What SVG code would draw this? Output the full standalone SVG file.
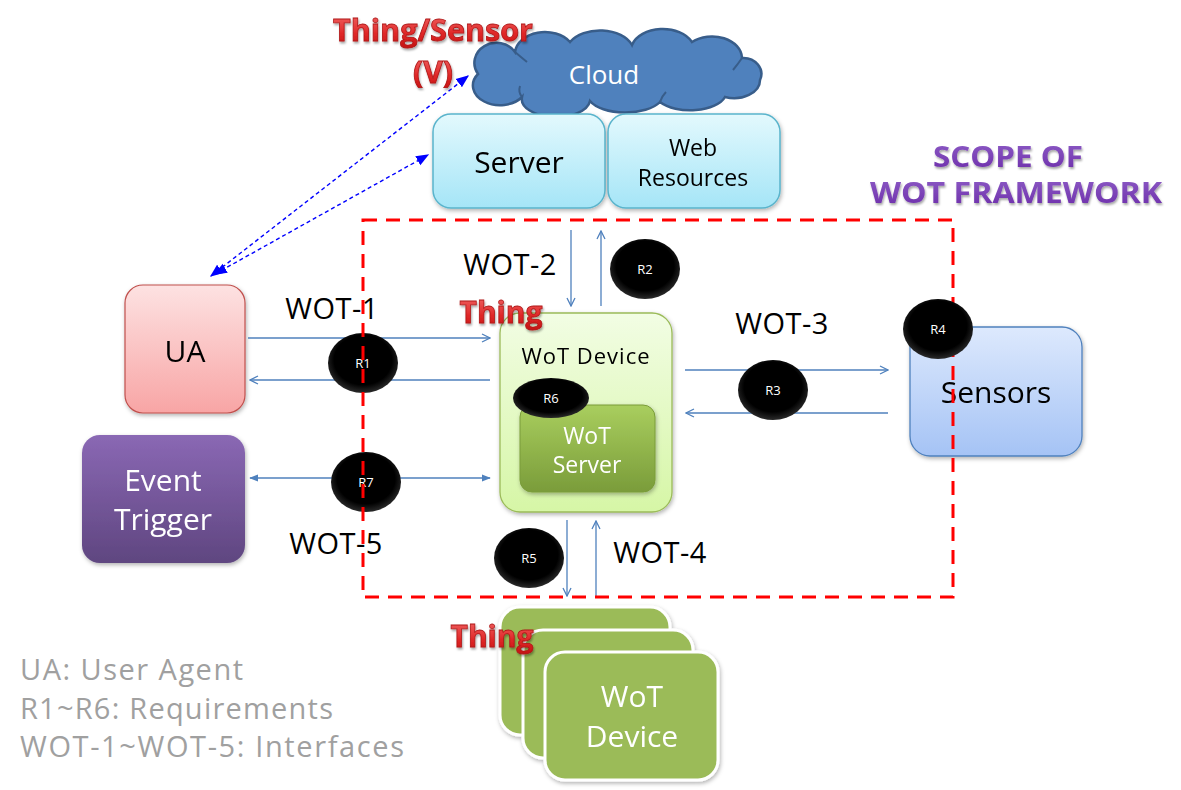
<svg xmlns="http://www.w3.org/2000/svg" width="1181" height="790" viewBox="0 0 1181 790">
<style>
.t{font-family:"Open Sans","Noto Sans","Liberation Sans",sans-serif;}
.lbl{font-family:"Open Sans","Noto Sans","Liberation Sans",sans-serif;font-size:29px;fill:#000;text-anchor:middle;letter-spacing:0.5px;}
.thing{font-family:"Open Sans","Liberation Sans",sans-serif;font-weight:bold;font-size:30px;fill:url(#redg);stroke:#b01818;stroke-width:0.8;text-anchor:middle;filter:url(#tsh);}
.req{fill:url(#blk);}
.reqt{font-family:"Open Sans","Liberation Sans",sans-serif;font-size:13px;fill:#fff;text-anchor:middle;}
.ln{stroke:#4f81bd;stroke-width:1.3;fill:none;}
.dot{stroke:#0000ff;stroke-width:1.4;stroke-dasharray:4 3;fill:none;marker-start:url(#fa);marker-end:url(#fa);}
.leg{font-family:"Open Sans","Noto Sans","Liberation Sans",sans-serif;font-size:29px;fill:#a0a0a0;}
.wht{fill:#fff;text-anchor:middle;}
</style>
<defs>
<linearGradient id="srv" x1="0" y1="0" x2="0" y2="1"><stop offset="0" stop-color="#e3f9fd"/><stop offset="1" stop-color="#a5e5f7"/></linearGradient>
<linearGradient id="ua" x1="0" y1="0" x2="0" y2="1"><stop offset="0" stop-color="#fde2e2"/><stop offset="1" stop-color="#f8a5a5"/></linearGradient>
<linearGradient id="ev" x1="0" y1="0" x2="0" y2="1"><stop offset="0" stop-color="#8a68b4"/><stop offset="1" stop-color="#5f4680"/></linearGradient>
<linearGradient id="dev" x1="0" y1="0" x2="0" y2="1"><stop offset="0" stop-color="#f2fde4"/><stop offset="1" stop-color="#d6f6a6"/></linearGradient>
<linearGradient id="ws" x1="0" y1="0" x2="0" y2="1"><stop offset="0" stop-color="#a9ce5e"/><stop offset="1" stop-color="#7a9c3a"/></linearGradient>
<linearGradient id="sen" x1="0" y1="0" x2="0" y2="1"><stop offset="0" stop-color="#dde9fd"/><stop offset="1" stop-color="#a5c3f5"/></linearGradient>
<linearGradient id="redg" x1="0" y1="0" x2="0" y2="1"><stop offset="0" stop-color="#f47070"/><stop offset="0.6" stop-color="#e02828"/><stop offset="1" stop-color="#c01010"/></linearGradient>
<linearGradient id="purg" x1="0" y1="0" x2="0" y2="1"><stop offset="0" stop-color="#9060c8"/><stop offset="1" stop-color="#6a2aa8"/></linearGradient>
<radialGradient id="blk" cx="0.5" cy="0.45" r="0.55"><stop offset="0.75" stop-color="#000"/><stop offset="1" stop-color="#2a2a2a"/></radialGradient>
<filter id="sh" x="-10%" y="-10%" width="125%" height="130%"><feDropShadow dx="1" dy="2" stdDeviation="2" flood-color="#000" flood-opacity="0.3"/></filter>
<filter id="tsh" x="-10%" y="-20%" width="120%" height="150%"><feDropShadow dx="1" dy="2" stdDeviation="1" flood-color="#000" flood-opacity="0.35"/></filter>
<marker id="oa" viewBox="0 0 10 10" refX="9" refY="5" markerWidth="10" markerHeight="10" markerUnits="userSpaceOnUse" orient="auto"><path d="M1,1 L9,5 L1,9" fill="none" stroke="#4f81bd" stroke-width="1.3"/></marker>
<marker id="ta" viewBox="0 0 10 10" refX="9" refY="5" markerWidth="9" markerHeight="9" markerUnits="userSpaceOnUse" orient="auto-start-reverse"><path d="M0,1 L10,5 L0,9 Z" fill="#4f81bd"/></marker>
<marker id="fa" viewBox="0 0 10 10" refX="9" refY="5" markerWidth="13" markerHeight="13" markerUnits="userSpaceOnUse" orient="auto-start-reverse"><path d="M0,1 L10,5 L0,9 Z" fill="#0000ff"/></marker>
</defs>
<rect width="1181" height="790" fill="#fff"/>

<g id="cloud">
<path d="M478,74 A22,20 0 0 1 515,52 A30,22 0 0 1 570,42 A34,22 0 0 1 632,45 A32,22 0 0 1 692,42 A30,22 0 0 1 742,58 A18,16 0 0 1 760,80 A26,18 0 0 1 725,97 A36,18 0 0 1 660,102 A38,18 0 0 1 590,101 A34,18 0 0 1 522,97 A22,16 0 0 1 478,74 Z" fill="#4f81bd" stroke="#385d8a" stroke-width="2.5"/>
<path d="M515,52 Q522,58 527,62 M742,58 Q738,64 733,70 M522,97 Q518,92 520,86 M660,102 Q662,96 666,92" fill="none" stroke="#385d8a" stroke-width="2"/>
<text class="t wht" x="604" y="84" font-size="26">Cloud</text>
</g>

<g id="server" filter="url(#sh)">
<rect x="433" y="114" width="172" height="94" rx="18" fill="url(#srv)" stroke="#5ab4cc" stroke-width="1.5"/>
<text class="t" x="519" y="173" font-size="30" text-anchor="middle">Server</text>
</g>
<g id="webres" filter="url(#sh)">
<rect x="608" y="114" width="172" height="94" rx="18" fill="url(#srv)" stroke="#5ab4cc" stroke-width="1.5"/>
<text class="t" x="693" y="156" font-size="23" text-anchor="middle">Web</text>
<text class="t" x="693" y="186" font-size="23" text-anchor="middle">Resources</text>
</g>

<g id="ua" filter="url(#sh)">
<rect x="125" y="285" width="120" height="128" rx="18" fill="url(#ua)" stroke="#c0504d" stroke-width="1.2"/>
<text class="t" x="185" y="362" font-size="30" text-anchor="middle">UA</text>
</g>

<g id="event" filter="url(#sh)">
<rect x="82" y="435" width="163" height="128" rx="18" fill="url(#ev)"/>
<text class="t wht" x="163" y="491" font-size="30">Event</text>
<text class="t wht" x="163" y="530" font-size="30">Trigger</text>
</g>

<g id="wotdevice" filter="url(#sh)">
<rect x="500" y="313" width="172" height="199" rx="20" fill="url(#dev)" stroke="#9bbb59" stroke-width="1.3"/>
<text class="t" x="586" y="364" font-size="22" text-anchor="middle" letter-spacing="1">WoT Device</text>
</g>
<g id="wotserver" filter="url(#sh)">
<rect x="520" y="405" width="135" height="87" rx="12" fill="url(#ws)" stroke="#7a9c3a" stroke-width="1"/>
<text class="t wht" x="587" y="444" font-size="23">WoT</text>
<text class="t wht" x="587" y="473" font-size="23">Server</text>
</g>

<g id="sensors" filter="url(#sh)">
<rect x="910" y="327" width="172" height="129" rx="20" fill="url(#sen)" stroke="#4f81bd" stroke-width="1.3"/>
<text class="t" x="996" y="403" font-size="30" text-anchor="middle">Sensors</text>
</g>

<g id="devstack" filter="url(#sh)">
<rect x="500" y="607" width="170" height="128" rx="20" fill="#9bbb59" stroke="#fff" stroke-width="3"/>
<rect x="523" y="630" width="170" height="128" rx="20" fill="#9bbb59" stroke="#fff" stroke-width="3"/>
<rect x="545" y="652" width="173" height="128" rx="20" fill="#9bbb59" stroke="#fff" stroke-width="3"/>
<text class="t wht" x="632" y="707" font-size="30">WoT</text>
<text class="t wht" x="632" y="747" font-size="30">Device</text>
</g>

<g id="connectors">
<line class="ln" x1="248" y1="338" x2="490" y2="338" marker-end="url(#oa)"/>
<line class="ln" x1="490" y1="380" x2="250" y2="380" marker-end="url(#oa)"/>
<line class="ln" x1="571" y1="230" x2="571" y2="306" marker-end="url(#oa)"/>
<line class="ln" x1="601" y1="306" x2="601" y2="231" marker-end="url(#oa)"/>
<line class="ln" x1="685" y1="370" x2="888" y2="370" marker-end="url(#oa)"/>
<line class="ln" x1="888" y1="413" x2="686" y2="413" marker-end="url(#oa)"/>
<line class="ln" x1="567" y1="520" x2="567" y2="596" marker-end="url(#oa)"/>
<line class="ln" x1="596" y1="596" x2="596" y2="521" marker-end="url(#oa)"/>
<line class="ln" x1="250" y1="478" x2="490" y2="478" marker-start="url(#ta)" marker-end="url(#ta)"/>
<line class="dot" x1="211" y1="276" x2="468" y2="76"/>
<line class="dot" x1="215" y1="274" x2="428" y2="155"/>
</g>

<g id="labels">
<text class="lbl" x="332" y="319">WOT-1</text>
<text class="lbl" x="510" y="275">WOT-2</text>
<text class="lbl" x="782" y="334">WOT-3</text>
<text class="lbl" x="660" y="563">WOT-4</text>
<text class="lbl" x="336" y="554">WOT-5</text>
</g>

<g id="r1"><ellipse class="req" cx="363" cy="363" rx="35" ry="30"/><text class="reqt" x="363" y="368">R1</text></g>
<g id="r7"><ellipse class="req" cx="366" cy="482" rx="35" ry="30"/><text class="reqt" x="366" y="487">R7</text></g>

<g id="scope">
<rect x="363" y="220" width="590" height="377" fill="none" stroke="#ff0000" stroke-width="3" stroke-dasharray="14 9"/>
</g>

<g id="r2"><ellipse class="req" cx="645" cy="269" rx="35" ry="30"/><text class="reqt" x="645" y="274">R2</text></g>
<g id="r3"><ellipse class="req" cx="773" cy="390" rx="35" ry="30"/><text class="reqt" x="773" y="395">R3</text></g>
<g id="r4"><ellipse class="req" cx="938" cy="329" rx="35" ry="30"/><text class="reqt" x="938" y="334">R4</text></g>
<g id="r5"><ellipse class="req" cx="529" cy="558" rx="35" ry="30"/><text class="reqt" x="529" y="563">R5</text></g>
<g id="r6"><ellipse class="req" cx="551" cy="398" rx="38" ry="20"/><text class="reqt" x="551" y="403">R6</text></g>

<g id="titles">
<text class="thing" x="433" y="41" textLength="200" lengthAdjust="spacingAndGlyphs">Thing/Sensor</text>
<text class="thing" x="433" y="83">(V)</text>
<text class="thing" x="501" y="323">Thing</text>
<text class="thing" x="492" y="647">Thing</text>
<text x="1008" y="167" font-family="'Open Sans','Liberation Sans',sans-serif" font-weight="bold" font-size="28" fill="url(#purg)" text-anchor="middle" filter="url(#tsh)" textLength="150" lengthAdjust="spacingAndGlyphs">SCOPE OF</text>
<text x="1016" y="203" font-family="'Open Sans','Liberation Sans',sans-serif" font-weight="bold" font-size="28" fill="url(#purg)" text-anchor="middle" filter="url(#tsh)" textLength="292" lengthAdjust="spacingAndGlyphs">WOT FRAMEWORK</text>
</g>

<g id="legend">
<text class="leg" x="20" y="680" textLength="223" lengthAdjust="spacing">UA: User Agent</text>
<text class="leg" x="20" y="719" textLength="313" lengthAdjust="spacing">R1~R6: Requirements</text>
<text class="leg" x="20" y="757" textLength="384" lengthAdjust="spacing">WOT-1~WOT-5: Interfaces</text>
</g>
</svg>
